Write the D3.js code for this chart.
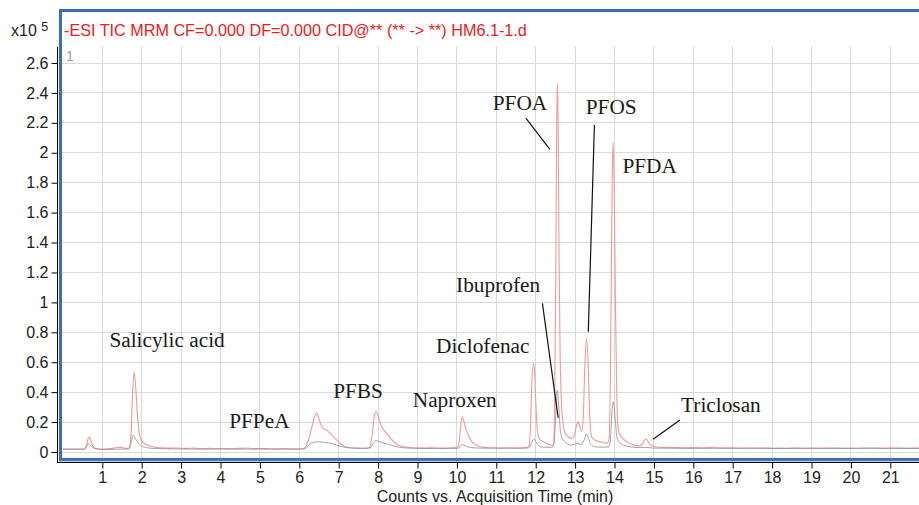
<!DOCTYPE html>
<html>
<head>
<meta charset="utf-8">
<script src="https://cdn.jsdelivr.net/npm/d3@7/dist/d3.min.js"></script>
<style>
  html, body { margin: 0; padding: 0; background: #fff; }
  svg { display: block; }
  .sans { font-family: "Liberation Sans", Arial, Helvetica, sans-serif; }
  .serif { font-family: "Liberation Serif", "Times New Roman", serif; }
</style>
</head>
<body>
<svg id="chart" width="919" height="505"></svg>
<script>
// ---------------- DATA ----------------
const titleText = "-ESI TIC MRM CF=0.000 DF=0.000 CID@** (** -> **) HM6.1-1.d";
const xTicks = [1,2,3,4,5,6,7,8,9,10,11,12,13,14,15,16,17,18,19,20,21];
const yTicks = [0,0.2,0.4,0.6,0.8,1,1.2,1.4,1.6,1.8,2,2.2,2.4,2.6];
const yTickLabels = ["0","0.2","0.4","0.6","0.8","1","1.2","1.4","1.6","1.8","2","2.2","2.4","2.6"];
const xAxisTitle = "Counts vs. Acquisition Time (min)";

// red trace: [time (min), counts (x10^5)]
const redTrace = [
  [0.00,0.020],[0.30,0.019],[0.55,0.020],[0.60,0.045],[0.64,0.090],[0.67,0.100],[0.71,0.075],
  [0.76,0.040],[0.82,0.025],[0.95,0.020],[1.10,0.019],[1.25,0.024],[1.40,0.031],[1.50,0.030],
  [1.60,0.024],[1.68,0.028],[1.73,0.120],[1.77,0.400],[1.81,0.535],[1.85,0.420],[1.90,0.220],
  [1.95,0.110],[2.02,0.069],[2.10,0.052],[2.21,0.040],[2.35,0.032],[2.50,0.028],[2.70,0.026],
  [2.90,0.027],[3.10,0.024],[3.30,0.026],[3.50,0.023],[3.70,0.024],[3.90,0.022],[4.10,0.023],
  [4.30,0.022],[4.50,0.024],[4.65,0.027],[4.80,0.022],[5.00,0.023],[5.20,0.022],[5.40,0.021],
  [5.60,0.023],[5.80,0.021],[6.00,0.020],[6.10,0.024],[6.15,0.030],[6.22,0.070],[6.27,0.114],
  [6.33,0.180],[6.38,0.230],[6.44,0.262],[6.50,0.220],[6.56,0.175],[6.61,0.158],[6.70,0.145],
  [6.78,0.125],[6.87,0.100],[6.95,0.080],[7.05,0.055],[7.16,0.035],[7.30,0.028],[7.45,0.026],
  [7.60,0.025],[7.72,0.026],[7.79,0.032],[7.85,0.120],[7.90,0.230],[7.95,0.272],[8.00,0.240],
  [8.05,0.195],[8.09,0.170],[8.15,0.145],[8.22,0.125],[8.30,0.098],[8.39,0.069],[8.50,0.048],
  [8.64,0.035],[8.80,0.030],[9.00,0.028],[9.20,0.027],[9.40,0.028],[9.60,0.026],[9.80,0.027],
  [9.98,0.028],[10.04,0.040],[10.08,0.130],[10.11,0.210],[10.14,0.236],[10.18,0.200],[10.25,0.136],
  [10.31,0.100],[10.38,0.069],[10.48,0.048],[10.59,0.035],[10.75,0.030],[10.90,0.028],[11.10,0.027],
  [11.30,0.028],[11.50,0.026],[11.70,0.028],[11.80,0.032],[11.84,0.050],[11.87,0.200],[11.90,0.450],
  [11.94,0.590],[11.97,0.550],[12.00,0.350],[12.04,0.150],[12.07,0.100],[12.13,0.080],[12.20,0.069],
  [12.30,0.055],[12.40,0.045],[12.45,0.050],[12.48,0.300],[12.51,1.200],[12.53,2.100],[12.55,2.465],
  [12.57,2.200],[12.59,1.400],[12.62,0.650],[12.66,0.300],[12.70,0.180],[12.75,0.125],[12.83,0.100],
  [12.92,0.090],[12.98,0.110],[13.03,0.170],[13.08,0.203],[13.12,0.170],[13.17,0.136],[13.21,0.250],
  [13.25,0.600],[13.29,0.760],[13.33,0.600],[13.37,0.250],[13.42,0.100],[13.50,0.080],[13.60,0.070],
  [13.70,0.065],[13.80,0.058],[13.86,0.080],[13.90,0.600],[13.93,1.500],[13.96,2.074],[13.99,1.800],
  [14.02,1.100],[14.05,0.500],[14.08,0.200],[14.12,0.125],[14.20,0.095],[14.31,0.069],[14.45,0.050],
  [14.60,0.040],[14.70,0.050],[14.76,0.080],[14.80,0.087],[14.85,0.070],[14.92,0.045],[15.05,0.035],
  [15.20,0.030],[15.40,0.031],[15.60,0.029],[15.80,0.028],[16.00,0.030],[16.20,0.028],[16.40,0.029],
  [16.50,0.033],[16.60,0.028],[16.80,0.027],[17.00,0.028],[17.20,0.026],[17.40,0.027],[17.60,0.026],
  [17.80,0.027],[18.00,0.025],[18.20,0.026],[18.40,0.025],[18.60,0.027],[18.80,0.025],[19.00,0.026],
  [19.20,0.025],[19.40,0.026],[19.60,0.027],[19.80,0.025],[20.00,0.026],[20.20,0.025],[20.40,0.026],
  [20.60,0.027],[20.80,0.025],[21.00,0.026],[21.20,0.027],[21.40,0.025],[21.60,0.026],[21.75,0.026]
];

// gray trace: [time (min), counts (x10^5)]
const grayTrace = [
  [0.00,0.018],[0.55,0.018],[0.60,0.040],[0.64,0.058],[0.68,0.050],[0.74,0.035],[0.82,0.022],
  [1.00,0.017],[1.40,0.019],[1.68,0.020],[1.73,0.060],[1.78,0.114],[1.83,0.095],[1.90,0.065],
  [2.00,0.040],[2.10,0.030],[2.30,0.024],[2.60,0.022],[3.00,0.020],[3.50,0.019],[4.00,0.020],
  [4.50,0.019],[5.00,0.020],[5.50,0.019],[6.00,0.019],[6.15,0.022],[6.20,0.035],[6.30,0.058],
  [6.45,0.068],[6.60,0.065],[6.80,0.058],[6.95,0.045],[7.10,0.035],[7.30,0.027],[7.70,0.024],
  [7.82,0.030],[7.88,0.060],[7.95,0.076],[8.05,0.068],[8.20,0.055],[8.40,0.040],[8.65,0.028],
  [9.00,0.024],[9.50,0.023],[10.03,0.025],[10.09,0.040],[10.14,0.051],[10.20,0.042],[10.35,0.030],
  [10.60,0.026],[11.20,0.025],[11.80,0.026],[11.88,0.050],[11.93,0.080],[11.96,0.085],[12.00,0.072],
  [12.06,0.045],[12.15,0.033],[12.40,0.031],[12.46,0.050],[12.50,0.200],[12.53,0.370],[12.55,0.414],
  [12.58,0.330],[12.62,0.158],[12.66,0.100],[12.70,0.080],[12.80,0.055],[12.87,0.047],[12.97,0.050],
  [13.05,0.058],[13.10,0.055],[13.15,0.050],[13.22,0.075],[13.29,0.120],[13.34,0.090],[13.40,0.050],
  [13.50,0.035],[13.70,0.032],[13.86,0.034],[13.90,0.100],[13.94,0.280],[13.97,0.336],[14.01,0.250],
  [14.06,0.100],[14.12,0.065],[14.22,0.047],[14.40,0.035],[14.60,0.030],[14.80,0.031],[15.00,0.026],
  [15.50,0.025],[16.00,0.024],[16.50,0.025],[17.00,0.024],[17.50,0.025],[18.00,0.024],[18.50,0.024],
  [19.00,0.025],[19.50,0.024],[20.00,0.024],[20.50,0.025],[21.00,0.024],[21.75,0.024]
];

// compound labels: [name, time at label start, counts at label baseline]
const compoundLabels = [
  ["Salicylic acid", 1.18, 0.705],
  ["PFPeA", 4.22, 0.158],
  ["PFBS", 6.86, 0.359],
  ["Naproxen", 8.88, 0.303],
  ["Diclofenac", 9.47, 0.664],
  ["Ibuprofen", 9.98, 1.071],
  ["PFOA", 10.91, 2.286],
  ["PFOS", 13.27, 2.259],
  ["PFDA", 14.20, 1.863],
  ["Triclosan", 15.69, 0.269]
];
// leader lines: [t1, v1, t2, v2]
const leaderLines = [
  [11.75, 2.231, 12.36, 2.023],
  [13.49, 2.186, 13.335, 0.804],
  [12.17, 0.994, 12.57, 0.229],
  [15.66, 0.214, 14.98, 0.085]
];

// ---------------- CHART ----------------
const svg = d3.select("#chart");
const plotLeft = 62, plotRight = 919, gridTop = 46, plotBottom = 458;

const x = d3.scaleLinear().domain([0, 21.75]).range([62.9, 62.9 + 39.4 * 21.75]);
const y = d3.scaleLinear().domain([0, 2.6]).range([452, 63]);

// clip
svg.append("defs").append("clipPath").attr("id", "plotclip")
  .append("rect").attr("x", plotLeft).attr("y", 14).attr("width", plotRight - plotLeft).attr("height", plotBottom - 14);

// grid
const grid = svg.append("g");
grid.selectAll("line.v").data(xTicks).enter().append("line")
  .attr("x1", d => x(d)).attr("x2", d => x(d))
  .attr("y1", gridTop).attr("y2", plotBottom)
  .attr("stroke", "#dadada").attr("stroke-width", 1).attr("shape-rendering", "crispEdges");
grid.selectAll("line.h").data(yTicks).enter().append("line")
  .attr("x1", plotLeft).attr("x2", plotRight)
  .attr("y1", d => y(d)).attr("y2", d => y(d))
  .attr("stroke", "#dadada").attr("stroke-width", 1).attr("shape-rendering", "crispEdges");

// traces
const line = d3.line().x(d => x(d[0])).y(d => y(d[1])).curve(d3.curveMonotoneX);
const traces = svg.append("g").attr("clip-path", "url(#plotclip)");
traces.append("path").datum(redTrace).attr("d", line)
  .attr("fill", "none").attr("stroke", "#f29a9a").attr("stroke-width", 1.1);
traces.append("path").datum(grayTrace).attr("d", line)
  .attr("fill", "none").attr("stroke", "#8f8f8f").attr("stroke-width", 0.9).attr("opacity", 0.9);

// frame (blue)
svg.append("rect").attr("x", 60.5).attr("y", 10.5).attr("width", 900).attr("height", 449)
  .attr("fill", "none").attr("stroke", "#3d6db3").attr("stroke-width", 3);
svg.append("line").attr("x1", 59).attr("x2", 919).attr("y1", 461.3).attr("y2", 461.3)
  .attr("stroke", "#a7c0e2").attr("stroke-width", 1);

// title
svg.append("text").attr("class", "sans").attr("x", 64).attr("y", 35.5)
  .attr("font-size", 16.2).attr("fill", "#ec1c24").text(titleText);
// x10^5
const sc = svg.append("text").attr("class", "sans").attr("x", 11).attr("y", 36).attr("font-size", 16).attr("fill", "#222");
sc.append("tspan").text("x10 ");
sc.append("tspan").attr("font-size", 12.5).attr("dy", -5).text("5");
// panel number
svg.append("text").attr("class", "sans").attr("x", 66).attr("y", 61).attr("font-size", 14).attr("fill", "#a0a0a0").text("1");

// y axis
const yAxisG = svg.append("g").attr("transform", "translate(57.5,0)");
yAxisG.append("line").attr("x1", 0).attr("x2", 0).attr("y1", 47).attr("y2", 463).attr("stroke", "#000").attr("stroke-width", 1);
const yAxis = d3.axisLeft(y).tickValues(yTicks).tickSize(6).tickPadding(3)
  .tickFormat((d, i) => yTickLabels[i]);
yAxisG.append("g").call(yAxis).call(g => {
  g.select(".domain").remove();
  g.selectAll("text").attr("font-size", 16).attr("fill", "#222").attr("font-family", "Liberation Sans, Arial, sans-serif");
  g.selectAll("line").attr("stroke", "#000");
});

// x axis
const xAxisG = svg.append("g").attr("transform", "translate(0,462.5)");
xAxisG.append("line").attr("x1", 57).attr("x2", 919).attr("y1", 0).attr("y2", 0).attr("stroke", "#000").attr("stroke-width", 1);
const xAxis = d3.axisBottom(x).tickValues(xTicks).tickSize(6).tickPadding(3).tickFormat(d3.format("d"));
xAxisG.append("g").call(xAxis).call(g => {
  g.select(".domain").remove();
  g.selectAll("text").attr("font-size", 16).attr("fill", "#222").attr("font-family", "Liberation Sans, Arial, sans-serif");
  g.selectAll("line").attr("stroke", "#000");
});
svg.append("text").attr("class", "sans").attr("x", 495).attr("y", 502).attr("text-anchor", "middle")
  .attr("font-size", 16).attr("fill", "#222").text(xAxisTitle);

// annotations
const ann = svg.append("g");
ann.selectAll("text").data(compoundLabels).enter().append("text")
  .attr("class", "serif").attr("x", d => x(d[1])).attr("y", d => y(d[2]))
  .attr("font-size", 21.3).attr("fill", "#1a1a1a").text(d => d[0]);
ann.selectAll("line").data(leaderLines).enter().append("line")
  .attr("x1", d => x(d[0])).attr("y1", d => y(d[1]))
  .attr("x2", d => x(d[2])).attr("y2", d => y(d[3]))
  .attr("stroke", "#111").attr("stroke-width", 1.2);
</script>
</body>
</html>
